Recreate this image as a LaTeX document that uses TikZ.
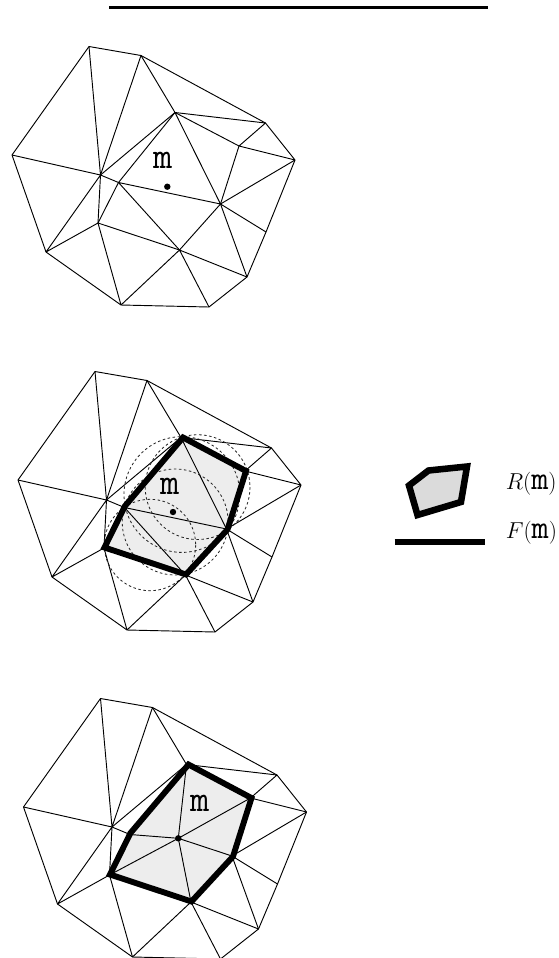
\documentclass[tikz,border=0pt]{standalone}
\usepackage{tikz}
\tikzset{
  mesh/.style={draw=black,line width=0.7pt,line join=round},
  hull/.style={draw=black,line width=4.4pt,line join=miter},
  conflict/.style={draw=black!85,line width=0.62pt,dash pattern=on 1.9pt off 1.9pt},
  bar/.style={draw=black,line cap=butt},
  site/.style={circle,fill=black,inner sep=0pt,minimum size=4.8pt},
  mlabel/.style={inner sep=0pt,font=\fontsize{28}{28}\selectfont\ttfamily},
  legendlabel/.style={inner sep=0pt,anchor=west,font=\fontsize{17}{20}\selectfont}
}
\newcommand{\legendm}{\mbox{\fontsize{25}{25}\selectfont\ttfamily m}}
\newcommand{\meshverts}[3]{%
  \coordinate (#1A) at (#2+89,#3+46.5);
  \coordinate (#1B) at (#2+141,#3+55.5);
  \coordinate (#1C) at (#2+265.5,#3+123);
  \coordinate (#1D) at (#2+295,#3+160);
  \coordinate (#1E) at (#2+266,#3+232);
  \coordinate (#1F) at (#2+247,#3+277);
  \coordinate (#1G) at (#2+209,#3+307);
  \coordinate (#1H) at (#2+121,#3+305);
  \coordinate (#1I) at (#2+46,#3+252);
  \coordinate (#1J) at (#2+12,#3+155);
  \coordinate (#1K) at (#2+175,#3+112.5);
  \coordinate (#1L) at (#2+239,#3+146);
  \coordinate (#1M) at (#2+220.5,#3+204);
  \coordinate (#1N) at (#2+179.5,#3+250);
  \coordinate (#1O) at (#2+118.5,#3+182.5);
  \coordinate (#1P) at (#2+100.5,#3+175);
  \coordinate (#1Q) at (#2+98,#3+223);
  \coordinate (#1Kh) at (#2+177,#3+112.5);
  \coordinate (#1Lh) at (#2+240,#3+146);
  \coordinate (#1Mh) at (#2+221.5,#3+204.5);
  \coordinate (#1Nh) at (#2+180,#3+249.5);
  \coordinate (#1Oh) at (#2+119,#3+181);
  \coordinate (#1Qh) at (#2+98.5,#3+222.5);
}
\newcommand{\meshouter}[1]{%
  \draw[mesh] (#1J)--(#1A)--(#1B)--(#1C)--(#1D)--(#1E)--(#1F)--(#1G)--(#1H)--(#1I)--cycle;
  \draw[mesh] (#1A)--(#1P) (#1B)--(#1P) (#1B)--(#1K) (#1K)--(#1C) (#1L)--(#1C) (#1L)--(#1D);
  \draw[mesh] (#1D)--(#1M) (#1M)--(#1E) (#1M)--(#1F) (#1P)--(#1J) (#1P)--(#1K) (#1O)--(#1P);
  \draw[mesh] (#1P)--(#1Q) (#1P)--(#1I) (#1Q)--(#1I) (#1Q)--(#1H) (#1N)--(#1H) (#1N)--(#1G) (#1N)--(#1F);
}
\newcommand{\meshinner}[1]{%
  \draw[mesh] (#1K)--(#1L)--(#1M)--(#1N)--(#1Q)--(#1O)--cycle;
}
\newcommand{\meshdiag}[1]{%
  \draw[mesh] (#1K)--(#1M) (#1O)--(#1M) (#1O)--(#1N);
}
\newcommand{\hullpath}[1]{(#1Kh)--(#1Lh)--(#1Mh)--(#1Nh)--(#1Qh)--(#1Oh)--cycle}
\begin{document}
\begin{tikzpicture}[x=0.75pt,y=-0.75pt]
\useasboundingbox (0,0) rectangle (558,958);
\fill[white] (0,0) rectangle (558,958);
% top rule
\coordinate (ruleL) at (109,7.3);
\coordinate (ruleR) at (488,7.3);
\draw[bar,line width=2.2pt] (ruleL)--(ruleR);
% panel 1
\meshverts{a}{0}{0}
\meshouter{a}\meshinner{a}\meshdiag{a}
\node[mlabel] (am) at (163.5,160) {m};
\node[site] (ap) at (167.3,186.7) {};
% panel 2
\meshverts{b}{6}{325}
\fill[black!7] \hullpath{b};
\meshouter{b}\meshinner{b}\meshdiag{b}
\draw[conflict] (150,545) circle (45.7);
\draw[conflict] (175.2,522) circle (53);
\draw[conflict] (181.9,494.5) circle (57.9);
\draw[conflict] (197.6,487.1) circle (52.4);
\draw[hull] \hullpath{b};
\node[mlabel] (bm) at (170,486.5) {m};
\node[site] (bp) at (173,512) {};
% panel 3
\meshverts{c}{11.5}{652}
\coordinate (cX) at (178.3,838.3);
\fill[black!7] \hullpath{c};
\meshouter{c}
\draw[mesh] (cX)--(cK) (cX)--(cL) (cX)--(cM) (cX)--(cN) (cX)--(cQ) (cX)--(cO);
\draw[hull] \hullpath{c};
\node[mlabel] (cm) at (200,803.5) {m};
\node[site] (cp) at (178.3,838.3) {};
% legend
\coordinate (l1) at (409,485.5);
\coordinate (l2) at (428.5,470.5);
\coordinate (l3) at (467,466.5);
\coordinate (l4) at (461,502);
\coordinate (l5) at (417.5,515);
\draw[line width=4.9pt,fill=black!14,line join=miter] (l1)--(l2)--(l3)--(l4)--(l5)--cycle;
\node[legendlabel] (rl) at (505.5,484) {$R($\legendm$)$};
\coordinate (barL) at (394.5,542);
\coordinate (barR) at (484.5,542);
\draw[bar,line width=4.6pt] (barL)--(barR);
\node[legendlabel] (fl) at (505.5,533) {$F($\legendm$)$};
\end{tikzpicture}
\end{document}
